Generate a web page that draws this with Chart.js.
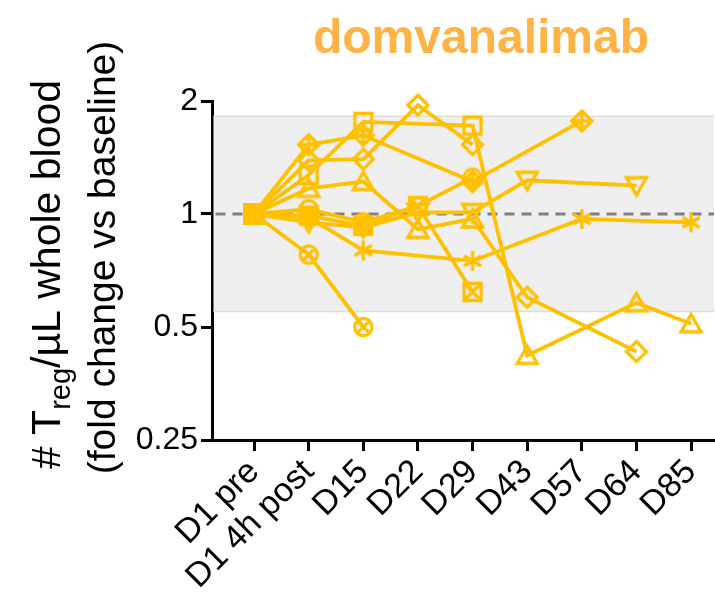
<!DOCTYPE html>
<html>
<head>
<meta charset="utf-8">
<title>domvanalimab - Treg fold change</title>
<script src="https://cdn.jsdelivr.net/npm/chart.js@4.4.1/dist/chart.umd.min.js"></script>
<style>
  html, body { margin: 0; padding: 0; background: #fff; }
  #chart { display: block; }
</style>
</head>
<body>
<canvas id="chart" width="715" height="615"></canvas>
<script>
// --- data (fold change vs baseline, null = no sample) ---
const visits = ['D1 pre', 'D1 4h post', 'D15', 'D22', 'D29', 'D43', 'D57', 'D64', 'D85'];
const yTickValues = [0.25, 0.5, 1, 2];
const normalBand = [0.55, 1.82];
const baselineValue = 1;

const subjCrossCircle  = [1, 0.78, 0.50, null, null, null, null, null, null];
const subjCrossDiamond = [1, 1.53, 1.62, null, 1.22, null, 1.77, null, null];
const subjSquare       = [1, 1.27, 1.76, null, 1.72, 0.42, null, 0.58, 0.51];
const subjDiamond      = [1, 1.39, 1.40, 1.95, 1.53, null, null, null, null];
const subjTriangle     = [1, 1.17, 1.22, 0.91, 0.97, 0.60, null, 0.43, null];
const subjCircle       = [1, 1.03, 0.95, 1.05, 1.25, null, null, null, null];
const subjCrossSquare  = [1, 0.99, 0.93, 1.05, 0.62, null, null, null, null];
const subjTriDown      = [1, 0.95, 0.92, 1.01, 1.01, 1.23, null, 1.19, null];
const subjAsterisk     = [1, 0.98, 0.80, null, 0.75, null, 0.97, null, 0.95];

const GOLD = '#FFC000';
const FONT = '"Liberation Sans", Arial, sans-serif';

// --- marker images (Prism-like open symbols) ---
function makeMarker(kind) {
    const size = 30;
    const c = document.createElement('canvas');
    c.width = size; c.height = size;
    const g = c.getContext('2d');
    const m = size / 2;
    g.strokeStyle = GOLD;
    g.fillStyle = GOLD;
    g.lineWidth = 3.3;
    g.lineJoin = 'miter';

    if (kind === 'filled') {
        g.fillRect(m - 10.5, m - 10.5, 21, 21);
        return c;
    }
    g.beginPath();
    if (kind === 'square' || kind === 'crossSquare') {
        const r = 8.5;
        g.rect(m - r, m - r, 2 * r, 2 * r);
        if (kind === 'crossSquare') {
            g.moveTo(m - r, m - r); g.lineTo(m + r, m + r);
            g.moveTo(m + r, m - r); g.lineTo(m - r, m + r);
        }
    } else if (kind === 'circle' || kind === 'crossCircle') {
        const r = 8.6;
        g.arc(m, m, r, 0, Math.PI * 2);
        if (kind === 'crossCircle') {
            const d = r * Math.SQRT1_2;
            g.moveTo(m - d, m - d); g.lineTo(m + d, m + d);
            g.moveTo(m + d, m - d); g.lineTo(m - d, m + d);
        }
    } else if (kind === 'diamond' || kind === 'crossDiamond') {
        const r = 10;
        g.moveTo(m, m - r); g.lineTo(m + r, m); g.lineTo(m, m + r); g.lineTo(m - r, m); g.closePath();
        if (kind === 'crossDiamond') {
            g.moveTo(m, m - r); g.lineTo(m, m + r);
            g.moveTo(m - r, m); g.lineTo(m + r, m);
        }
    } else if (kind === 'triangle') {
        g.moveTo(m, m - 9.5); g.lineTo(m + 10, m + 8); g.lineTo(m - 10, m + 8); g.closePath();
    } else if (kind === 'triDown') {
        g.moveTo(m, m + 9.5); g.lineTo(m + 10, m - 8); g.lineTo(m - 10, m - 8); g.closePath();
    } else if (kind === 'asterisk') {
        const r = 10;
        for (const a of [90, 30, 150]) {
            const dx = r * Math.cos(a * Math.PI / 180), dy = r * Math.sin(a * Math.PI / 180);
            g.moveTo(m - dx, m - dy); g.lineTo(m + dx, m + dy);
        }
    }
    g.stroke();
    return c;
}

const markers = {};
['filled', 'square', 'crossSquare', 'circle', 'crossCircle', 'diamond', 'crossDiamond',
 'triangle', 'triDown', 'asterisk'].forEach(k => { markers[k] = makeMarker(k); });

// subject -> symbol; "late" is the symbol drawn from D43 on (as seen in the figure)
const subjects = [
    { data: subjCrossCircle, marker: 'crossCircle' },
    { data: subjCrossDiamond, marker: 'crossDiamond' },
    { data: subjSquare, marker: 'square', late: 'triangle' },
    { data: subjDiamond, marker: 'diamond' },
    { data: subjTriangle, marker: 'triangle', late: 'diamond' },
    { data: subjCircle, marker: 'circle' },
    { data: subjCrossSquare, marker: 'crossSquare' },
    { data: subjTriDown, marker: 'triDown' },
    { data: subjAsterisk, marker: 'asterisk' }
];

const datasets = subjects.map(s => ({
    data: s.data.map((v, i) => ({ x: i, y: v })),
    borderColor: GOLD,
    backgroundColor: GOLD,
    borderWidth: 3.8,
    tension: 0,
    spanGaps: true,
    clip: false,
    pointRadius: 9,
    pointStyle: (ctx) => {
        if (ctx.dataIndex === 0) return markers.filled;
        if (s.late && ctx.dataIndex >= 5) return markers[s.late];
        return markers[s.marker];
    }
}));

// --- plugins: grey normal band, dashed baseline, titles ---
const bandPlugin = {
    id: 'band',
    beforeDatasetsDraw(chart) {
        const { ctx, chartArea, scales } = chart;
        const yTop = scales.y.getPixelForValue(normalBand[1]);
        const yBot = scales.y.getPixelForValue(normalBand[0]);
        const x0 = chartArea.left + 1.5;
        ctx.save();
        ctx.fillStyle = '#efefef';
        ctx.fillRect(x0, yTop, chartArea.right - x0, yBot - yTop);
        ctx.strokeStyle = '#dddddd';
        ctx.lineWidth = 1.5;
        ctx.beginPath();
        ctx.moveTo(x0, yTop); ctx.lineTo(chartArea.right, yTop);
        ctx.moveTo(x0, yBot); ctx.lineTo(chartArea.right, yBot);
        ctx.stroke();

        const yBase = scales.y.getPixelForValue(baselineValue);
        ctx.strokeStyle = '#808080';
        ctx.lineWidth = 3;
        ctx.setLineDash([10, 7]);
        ctx.beginPath();
        ctx.moveTo(x0 + 2, yBase); ctx.lineTo(chartArea.right, yBase);
        ctx.stroke();
        ctx.restore();
    }
};

const titlePlugin = {
    id: 'titles',
    afterDraw(chart) {
        const { ctx, chartArea } = chart;
        ctx.save();
        // chart title
        ctx.fillStyle = '#FFB347';
        ctx.font = 'bold 48px ' + FONT;
        ctx.textAlign = 'center';
        ctx.textBaseline = 'alphabetic';
        ctx.fillText('domvanalimab', 481, 53);

        // y axis title, two rotated lines
        const cy = (chartArea.top + chartArea.bottom) / 2;
        ctx.fillStyle = '#000';
        ctx.textAlign = 'left';
        const main = '41px ' + FONT, sub = '29px ' + FONT;
        const parts = [['# T', main, 0], ['reg', sub, 10], ['/\u00b5L whole blood', main, 0]];
        let total = 0;
        parts.forEach(p => { ctx.font = p[1]; total += ctx.measureText(p[0]).width; });

        ctx.translate(60, cy);
        ctx.rotate(-Math.PI / 2);
        let x = -total / 2 - 4;
        parts.forEach(p => {
            ctx.font = p[1];
            ctx.fillText(p[0], x, p[2]);
            x += ctx.measureText(p[0]).width;
        });
        ctx.font = '39px ' + FONT;
        ctx.textAlign = 'center';
        ctx.fillText('(fold change vs baseline)', 13, 55);
        ctx.restore();
    }
};

new Chart(document.getElementById('chart'), {
    type: 'line',
    data: { datasets },
    options: {
        responsive: false,
        animation: false,
        layout: { autoPadding: false, padding: { top: 101, right: 1, bottom: 0, left: 0 } },
        plugins: {
            legend: { display: false },
            tooltip: { enabled: false }
        },
        scales: {
            x: {
                type: 'linear',
                min: -0.77,
                max: 8.42,
                afterBuildTicks: (scale) => { scale.ticks = visits.map((_, i) => ({ value: i })); },
                afterFit: (scale) => {
                    scale.height = 175;
                    scale.paddingLeft = 0;
                    scale.paddingRight = 0;
                },
                ticks: {
                    callback: (v) => visits[Math.round(v)],
                    autoSkip: false,
                    minRotation: 45,
                    maxRotation: 45,
                    padding: 1,
                    color: '#000',
                    font: { family: FONT, size: 34 }
                },
                grid: { drawOnChartArea: false, drawTicks: true, tickLength: 11, tickWidth: 3, tickColor: '#000' },
                border: { display: true, color: '#000', width: 3 }
            },
            y: {
                type: 'logarithmic',
                min: 0.25,
                max: 2,
                afterBuildTicks: (scale) => { scale.ticks = yTickValues.map(v => ({ value: v, major: true })); },
                afterFit: (scale) => { scale.width = 212; },
                ticks: {
                    callback: (v) => String(v),
                    padding: 3,
                    color: '#000',
                    font: { family: FONT, size: 32 }
                },
                grid: { drawOnChartArea: false, drawTicks: true, tickLength: 11, tickWidth: 3, tickColor: '#000' },
                border: { display: true, color: '#000', width: 3 }
            }
        }
    },
    plugins: [bandPlugin, titlePlugin]
});
</script>
</body>
</html>
